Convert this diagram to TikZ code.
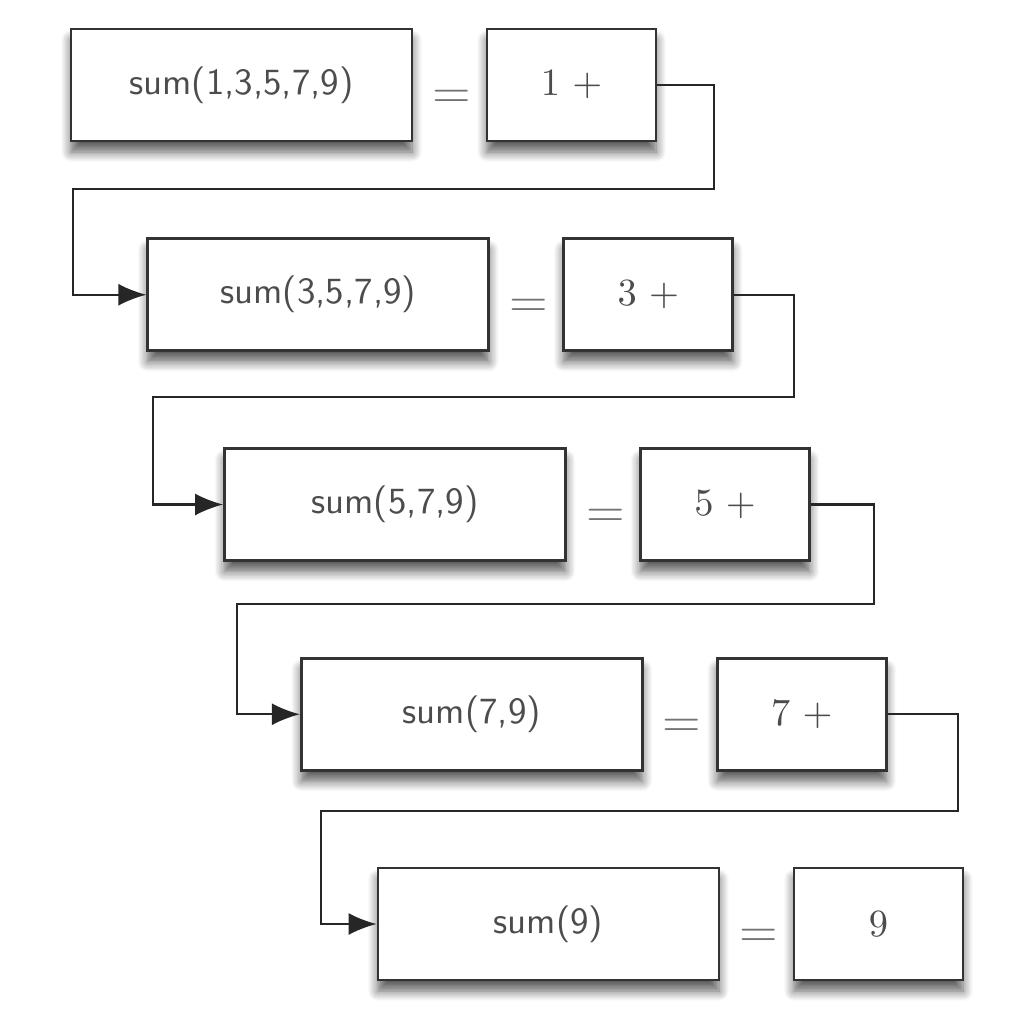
\documentclass[tikz,border=0pt]{standalone}
\usepackage{amsmath}
\usetikzlibrary{arrows.meta,shadows.blur}
\tikzset{
    callbox/.style={draw=black!80, line width=0.8pt, fill=white,
        minimum width=3.41cm, minimum height=1.12cm,
        font=\sffamily\fontsize{10.5}{12}\selectfont, text=black!70,
        blur shadow={shadow xshift=0pt, shadow yshift=-0.11cm,
            shadow blur radius=0.1cm, shadow blur steps=8, shadow opacity=65}},
    valbox/.style={callbox, minimum width=1.69cm},
    eqsign/.style={font=\Large, text=black!55, inner sep=0pt},
    link/.style={draw=black!85, line width=0.6pt,
        -{Latex[length=2.8mm,width=2.2mm]}}
}
\begin{document}
\begin{tikzpicture}
    \useasboundingbox (0,0) rectangle (10.12,-10.30);
    % one row per call
    \foreach \c/\v [count=\i from 0] in {{sum(1,3,5,7,9)}/{$1\ +$}, {sum(3,5,7,9)}/{$3\ +$},
        {sum(5,7,9)}/{$5\ +$}, {sum(7,9)}/{$7\ +$}, {sum(9)}/{$9$}} {
        \pgfmathsetmacro\bx{0.71+0.7675*\i}
        \pgfmathsetmacro\by{-0.29-2.0975*\i}
        \node[callbox] (s\i) at (\bx+1.705, \by-0.56) {\c};
        \node[valbox] (v\i) at (\bx+5.005, \by-0.56) {\v};
        \node[eqsign] (e\i) at (\bx+3.81, \by-0.70) {$=$};
    }
    % connectors to the next call
    \foreach \i/\r/\h/\l [evaluate=\i as \j using int(\i+1)] in
        {0/0.57/0.47/0.73, 1/0.60/0.45/0.70, 2/0.63/0.42/0.63, 3/0.70/0.39/0.56} {
        \draw[link] (v\i.east) -- ++(\r,0) |- ([yshift=-\h cm]v\i.south)
            -| ([xshift=-\l cm]s\j.west) -- (s\j.west);
    }
\end{tikzpicture}
\end{document}
